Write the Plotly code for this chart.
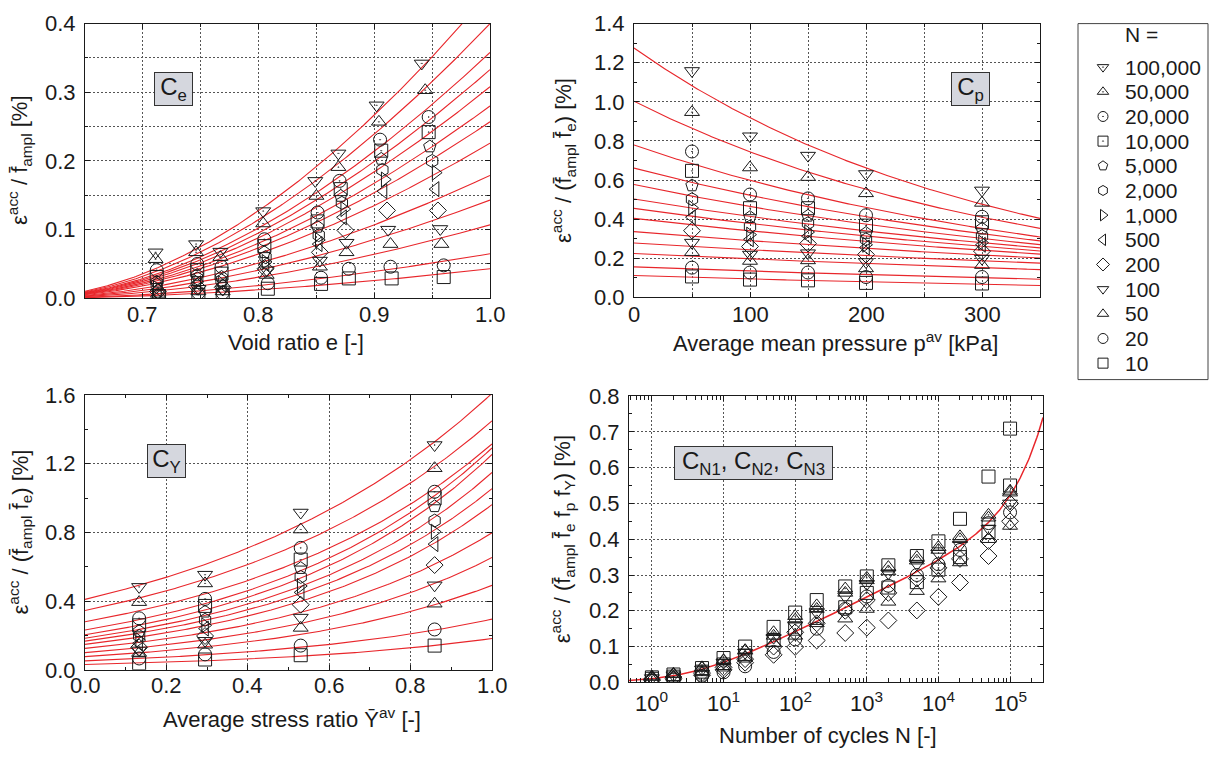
import numpy as np
import plotly.graph_objects as go

W, H = 1210, 766
FONT = "Liberation Sans, Arial, Helvetica, sans-serif"
INK = "#1a1a1a"
RED = "#e8262b"
GRID = "#555555"

# ---------------------------------------------------------------- series
n_labels = ["100,000", "50,000", "20,000", "10,000", "5,000", "2,000", "1,000",
            "500", "200", "100", "50", "20", "10"]
n_symbols = ["triangle-down-open-dot", "triangle-up-open-dot", "circle-open-dot",
             "square-open-dot", "pentagon-open", "hexagon-open", "triangle-right-open",
             "triangle-left-open", "diamond-open", "triangle-down-open",
             "triangle-up-open", "circle-open", "square-open"]

# void ratio e of every test (rows: N as in n_labels, columns: test groups)
ce_e = [
    [0.711, 0.746, 0.767, 0.804, 0.849, 0.869, 0.902, 0.941],
    [0.711, 0.746, 0.767, 0.804, 0.850, 0.869, 0.904, 0.944],
    [0.712, 0.747, 0.768, 0.805, 0.851, 0.870, 0.905, 0.947],
    [0.712, 0.747, 0.768, 0.805, 0.851, 0.871, 0.906, 0.947],
    [0.712, 0.747, 0.768, 0.805, 0.851, 0.871, 0.906, 0.948],
    [0.712, 0.747, 0.768, 0.806, 0.852, 0.872, 0.907, 0.950],
    [0.712, 0.747, 0.768, 0.806, 0.852, 0.874, 0.909, 0.953],
    [0.713, 0.747, 0.769, 0.806, 0.852, 0.873, 0.908, 0.953],
    [0.713, 0.747, 0.769, 0.806, 0.853, 0.875, 0.911, 0.955],
    [0.713, 0.748, 0.769, 0.807, 0.853, 0.876, 0.912, 0.957],
    [0.713, 0.748, 0.769, 0.807, 0.853, 0.876, 0.914, 0.958],
    [0.714, 0.748, 0.769, 0.808, 0.854, 0.878, 0.914, 0.960],
    [0.714, 0.748, 0.769, 0.808, 0.854, 0.878, 0.915, 0.960],
]
ce_val = [
    [0.067, 0.079, 0.068, 0.127, 0.171, 0.211, 0.281, 0.342],
    [0.057, 0.067, 0.060, 0.109, 0.149, 0.191, 0.257, 0.303],
    [0.041, 0.050, 0.046, 0.086, 0.125, 0.171, 0.231, 0.264],
    [0.031, 0.041, 0.036, 0.076, 0.112, 0.159, 0.215, 0.242],
    [0.024, 0.034, 0.031, 0.067, 0.104, 0.149, 0.203, 0.221],
    [0.020, 0.029, 0.026, 0.060, 0.092, 0.139, 0.187, 0.200],
    [0.015, 0.024, 0.022, 0.053, 0.085, 0.130, 0.173, 0.183],
    [0.013, 0.022, 0.020, 0.050, 0.079, 0.118, 0.156, 0.159],
    [0.010, 0.017, 0.016, 0.043, 0.067, 0.099, 0.128, 0.128],
    [0.008, 0.014, 0.013, 0.041, 0.055, 0.081, 0.100, 0.101],
    [0.0065, 0.010, 0.010, 0.034, 0.046, 0.067, 0.079, 0.079],
    [0.004, 0.008, 0.008, 0.022, 0.030, 0.043, 0.046, 0.048],
    [0.003, 0.005, 0.005, 0.014, 0.021, 0.029, 0.029, 0.031],
]
# fitted f_e curves: value at e = 1.0 and the material constant C_e
ce_fit_at_1 = [0.446, 0.400, 0.358, 0.333, 0.308, 0.280, 0.257, 0.226, 0.179,
               0.143, 0.107, 0.065, 0.043]
C_e = 0.594

# average mean pressure p_av [kPa]
cp_p = [50, 100, 150, 200, 300]
cp_val = [
    [1.158, 0.824, 0.725, 0.631, 0.547],
    [0.947, 0.664, 0.615, 0.532, 0.483],
    [0.746, 0.526, 0.506, 0.420, 0.412],
    [0.647, 0.456, 0.456, 0.367, 0.384],
    [0.572, 0.410, 0.417, 0.329, 0.351],
    [0.502, 0.362, 0.379, 0.297, 0.313],
    [0.458, 0.321, 0.334, 0.269, 0.280],
    [0.410, 0.297, 0.313, 0.255, 0.269],
    [0.341, 0.260, 0.275, 0.219, 0.236],
    [0.280, 0.219, 0.226, 0.181, 0.198],
    [0.231, 0.186, 0.189, 0.148, 0.165],
    [0.152, 0.127, 0.127, 0.104, 0.104],
    [0.107, 0.091, 0.087, 0.074, 0.071],
]
# fitted f_p curves: values at p = 0 and p = 350 kPa
cp_fit_at_0 = [1.275, 1.003, 0.779, 0.661, 0.577, 0.503, 0.455, 0.404, 0.336,
               0.278, 0.224, 0.156, 0.112]
cp_fit_at_350 = [0.404, 0.353, 0.309, 0.289, 0.270, 0.253, 0.237, 0.221, 0.201,
                 0.175, 0.142, 0.093, 0.061]

# average stress ratio Y_av
cy_Y = [0.133, 0.295, 0.530, 0.859]
cy_val = [
    [0.483, 0.554, 0.916, 1.309],
    [0.394, 0.503, 0.817, 1.174],
    [0.300, 0.413, 0.710, 1.037],
    [0.259, 0.372, 0.642, 0.999],
    [0.225, 0.338, 0.592, 0.952],
    [0.197, 0.291, 0.541, 0.869],
    [0.173, 0.259, 0.488, 0.804],
    [0.154, 0.240, 0.451, 0.732],
    [0.131, 0.197, 0.379, 0.610],
    [0.113, 0.169, 0.304, 0.492],
    [0.098, 0.146, 0.244, 0.385],
    [0.066, 0.090, 0.141, 0.235],
    [0.038, 0.060, 0.085, 0.141],
]
# fitted f_Y curves: values at Y = 0 and Y = 1
cy_fit_at_0 = [0.410, 0.345, 0.280, 0.232, 0.204, 0.184, 0.167, 0.148, 0.125,
               0.100, 0.077, 0.052, 0.031]
cy_fit_at_1 = [1.610, 1.450, 1.315, 1.292, 1.254, 1.149, 1.055, 0.962, 0.798,
               0.654, 0.492, 0.295, 0.182]

# normalised accumulation versus number of cycles, one row per test
cn_N = [1, 2, 5, 10, 20, 50, 100, 200, 500, 1000, 2000, 5000, 10000, 20000,
        50000, 100000]
cn_val = [
    [0.014, 0.022, 0.040, 0.068, 0.100, 0.155, 0.195, 0.230, 0.268, 0.296, 0.327, 0.353, 0.394, 0.457, 0.575, 0.709],
    [0.016, 0.024, 0.042, 0.062, 0.090, 0.140, 0.185, 0.215, 0.262, 0.292, 0.322, 0.350, 0.378, 0.408, 0.468, 0.535],
    [0.008, 0.014, 0.028, 0.045, 0.070, 0.110, 0.130, 0.165, 0.178, 0.205, 0.225, 0.255, 0.290, 0.335, 0.400, 0.437],
    [0.012, 0.020, 0.036, 0.055, 0.083, 0.125, 0.160, 0.195, 0.240, 0.275, 0.305, 0.330, 0.360, 0.385, 0.430, 0.500],
    [0.004, 0.008, 0.018, 0.028, 0.045, 0.085, 0.120, 0.150, 0.205, 0.240, 0.270, 0.300, 0.330, 0.370, 0.445, 0.475],
    [0.006, 0.010, 0.020, 0.035, 0.055, 0.077, 0.099, 0.117, 0.138, 0.153, 0.173, 0.201, 0.239, 0.279, 0.353, 0.450],
    [0.010, 0.016, 0.030, 0.050, 0.075, 0.118, 0.150, 0.180, 0.210, 0.250, 0.265, 0.280, 0.315, 0.350, 0.420, 0.550],
    [0.009, 0.015, 0.026, 0.042, 0.065, 0.100, 0.140, 0.165, 0.200, 0.230, 0.250, 0.290, 0.320, 0.345, 0.395, 0.500],
    [0.015, 0.023, 0.040, 0.060, 0.088, 0.130, 0.175, 0.205, 0.250, 0.285, 0.310, 0.340, 0.370, 0.400, 0.460, 0.530],
]
cn_symbols = ["square-open", "triangle-up-open-dot", "triangle-up-open",
              "triangle-down-open", "circle-open", "diamond-open",
              "square-open-dot", "diamond-open-dot", "triangle-up-open"]
C_N1, C_N2, C_N3 = 0.042, 0.28, 2.19e-5

# x tick labels of the four panels
e_ticks = [0.7, 0.8, 0.9, 1.0]
p_ticks = [0, 100, 200, 300]
Y_ticks = [0.0, 0.2, 0.4, 0.6, 0.8, 1.0]
N_ticks = [1, 10, 100, 1000, 10000, 100000]


# ---------------------------------------------------------------- layout helpers
def fx(px):
    return px / W


def fy(py):
    return 1 - py / H


panels = {  # pixel boxes of the four plot areas: left, right, top, bottom
    1: (85, 490, 12, 296),
    2: (634, 1040, 12, 295),
    3: (85, 492, 396, 680),
    4: (629, 1043, 397, 693),
}

fig = go.Figure()

# open symbols take their stroke colour from marker.color
mk = dict(color=INK, line=dict(color=INK, width=1))


def add_markers(xs, ys, sym, axis, size=13):
    fig.add_trace(go.Scatter(
        x=xs, y=ys, mode="markers", xaxis="x" + axis, yaxis="y" + axis,
        marker=dict(symbol=sym, size=size, **mk), showlegend=False,
        hoverinfo="skip"))


def add_curve(xs, ys, axis, width=1.1):
    fig.add_trace(go.Scatter(
        x=xs, y=ys, mode="lines", xaxis="x" + axis, yaxis="y" + axis,
        line=dict(color=RED, width=width), showlegend=False, hoverinfo="skip"))


# panel 1: C_e
e_grid = np.linspace(0.65, 1.0, 200)
shape_e = (e_grid - C_e) ** 2 / (1 + e_grid)
shape_e1 = (1.0 - C_e) ** 2 / 2.0
for a in ce_fit_at_1:
    add_curve(e_grid, a * shape_e / shape_e1, "")
for i in range(13):
    add_markers(ce_e[i], ce_val[i], n_symbols[i], "")

# panel 2: C_p
p_grid = np.linspace(0, 350, 200)
for v0, v1 in zip(cp_fit_at_0, cp_fit_at_350):
    add_curve(p_grid, v0 * (v1 / v0) ** (p_grid / 350.0), "2")
for i in range(13):
    add_markers(cp_p, cp_val[i], n_symbols[i], "2")

# panel 3: C_Y
y_grid = np.linspace(0, 1, 200)
for v0, v1 in zip(cy_fit_at_0, cy_fit_at_1):
    add_curve(y_grid, v0 * (v1 / v0) ** y_grid, "3")
for i in range(13):
    add_markers(cy_Y, cy_val[i], n_symbols[i], "3")

# panel 4: C_N1, C_N2, C_N3
N_grid = np.logspace(-0.32, 5.46, 400)
add_curve(N_grid, C_N1 * (np.log(1 + C_N2 * N_grid) + C_N3 * N_grid), "4", width=1.5)
for row, sym in zip(cn_val, cn_symbols):
    add_markers(cn_N, row, sym, "4")

# legend drawn on a pixel-coordinate overlay
leg_x_marker, leg_x_text, leg_y0, leg_dy = 1103, 1123, 57, 25.5
leg_y = [leg_y0 + leg_dy * i for i in range(13)]
for i in range(13):
    fig.add_trace(go.Scatter(
        x=[leg_x_marker], y=[leg_y[i]], mode="markers", xaxis="x5", yaxis="y5",
        marker=dict(symbol=n_symbols[i], size=10, **mk), showlegend=False,
        hoverinfo="skip"))

# ---------------------------------------------------------------- axes
FS = 22
tickfont = dict(family=FONT, size=FS, color=INK)


def axis_common(domain, anchor):
    return dict(domain=domain, anchor=anchor, showline=True, linecolor=INK,
                linewidth=1, mirror="ticks", ticks="inside", ticklen=5,
                tickcolor=INK, showgrid=True, gridcolor=GRID, gridwidth=1,
                griddash="2px,2px", zeroline=False, tickfont=tickfont,
                ticklabelstandoff=4)


def dom(panel):
    l, r, t, b = panels[panel]
    return [fx(l), fx(r)], [fy(b), fy(t)]


layout_axes = {}
xd, yd = dom(1)
layout_axes["xaxis"] = dict(axis_common(xd, "y"), range=[0.65, 1.0], tick0=0.7,
                            dtick=0.1, showticklabels=False,
                            minor=dict(dtick=0.05, showgrid=True, gridcolor=GRID,
                                       griddash="2px,2px", ticks="inside", ticklen=3))
layout_axes["yaxis"] = dict(axis_common(yd, "x"), range=[0, 0.4], dtick=0.1,
                            tickformat=".1f",
                            minor=dict(dtick=0.05, showgrid=True, gridcolor=GRID,
                                       griddash="2px,2px", ticks="inside", ticklen=3))
xd, yd = dom(2)
layout_axes["xaxis2"] = dict(axis_common(xd, "y2"), range=[0, 350], dtick=100,
                             showticklabels=False,
                             minor=dict(dtick=50, showgrid=True, gridcolor=GRID,
                                        griddash="2px,2px", ticks="inside", ticklen=3))
layout_axes["yaxis2"] = dict(axis_common(yd, "x2"), range=[0, 1.4], dtick=0.2,
                             tickformat=".1f",
                             minor=dict(dtick=0.1, showgrid=False, ticks="inside",
                                        ticklen=3))
xd, yd = dom(3)
layout_axes["xaxis3"] = dict(axis_common(xd, "y3"), range=[0, 1.0], dtick=0.2,
                             showticklabels=False,
                             minor=dict(dtick=0.1, showgrid=False, ticks="inside",
                                        ticklen=3))
layout_axes["yaxis3"] = dict(axis_common(yd, "x3"), range=[0, 1.6], dtick=0.4,
                             tickformat=".1f",
                             minor=dict(dtick=0.2, showgrid=False, ticks="inside",
                                        ticklen=3))
xd, yd = dom(4)
minor_N = [m * 10 ** k for k in range(-1, 6) for m in range(2, 10)]
layout_axes["xaxis4"] = dict(axis_common(xd, "y4"), type="log", range=[-0.32, 5.46],
                             tickmode="array", tickvals=N_ticks,
                             showticklabels=False,
                             minor=dict(tickmode="array", tickvals=minor_N,
                                        showgrid=False, ticks="inside", ticklen=4))
layout_axes["yaxis4"] = dict(axis_common(yd, "x4"), range=[0, 0.8], dtick=0.1,
                             tickformat=".1f",
                             minor=dict(dtick=0.05, showgrid=False, ticks="inside",
                                        ticklen=3))
layout_axes["xaxis5"] = dict(domain=[0, 1], anchor="y5", range=[0, W], visible=False)
layout_axes["yaxis5"] = dict(domain=[0, 1], anchor="x5", range=[H, 0], visible=False)

# ---------------------------------------------------------------- texts
fbar = "f\u0304"
annotations = []


def text(x, y, s, angle=0, xanchor="center", size=FS):
    annotations.append(dict(x=fx(x), y=fy(y), xref="paper", yref="paper", text=s,
                            showarrow=False, textangle=angle, xanchor=xanchor,
                            yanchor="middle",
                            font=dict(family=FONT, size=size, color=INK)))


def xtick_labels(xref, values, labels, y, logaxis=False):
    for v, s in zip(values, labels):
        annotations.append(dict(x=np.log10(v) if logaxis else v, y=fy(y), xref=xref,
                                yref="paper", text=s, showarrow=False,
                                xanchor="center", yanchor="middle",
                                font=dict(family=FONT, size=FS, color=INK)))


xtick_labels("x", e_ticks, ["%.1f" % v for v in e_ticks], 313)
xtick_labels("x2", p_ticks, ["%d" % v for v in p_ticks], 313)
xtick_labels("x3", Y_ticks, ["%.1f" % v for v in Y_ticks], 696)
xtick_labels("x4", N_ticks, ["10<sup>%d</sup>" % round(np.log10(v)) for v in N_ticks],
             713, logaxis=True)

text(296, 342, "Void ratio e [-]")
text(835, 341, "Average mean pressure p<sup>av</sup> [kPa]")
text(292, 730, "Average stress ratio Y\u0304<sup>av</sup> [-]")
text(828, 748, "Number of cycles N [-]")
text(20, 154, "\u03b5<sup>acc</sup> / %s<sub>ampl</sub> [%%]" % fbar, angle=-90)
text(564, 154, "\u03b5<sup>acc</sup> / (%s<sub>ampl</sub> %s<sub>e</sub>) [%%]"
     % (fbar, fbar), angle=-90)
text(20, 538, "\u03b5<sup>acc</sup> / (%s<sub>ampl</sub> %s<sub>e</sub>) [%%]"
     % (fbar, fbar), angle=-90)
text(562, 545, "\u03b5<sup>acc</sup> / (%s<sub>ampl</sub> %s<sub>e</sub> "
     "f<sub>p</sub> f<sub>Y</sub>) [%%]" % (fbar, fbar), angle=-90)

# constant labels in grey boxes
for (cx, cy, s, w) in [(174, 80, "C<sub>e</sub>", 37),
                       (970, 80, "C<sub>p</sub>", 37),
                       (166, 464, "C<sub>Y</sub>", 37),
                       (754, 466, "C<sub>N1</sub>, C<sub>N2</sub>, C<sub>N3</sub>", 157)]:
    annotations.append(dict(x=fx(cx), y=fy(cy), xref="paper", yref="paper", text=s,
                            showarrow=False, xanchor="center", yanchor="middle",
                            width=w, height=32, bgcolor="#d5d7de",
                            bordercolor="#333333", borderwidth=1, borderpad=0,
                            font=dict(family=FONT, size=24, color=INK)))

# legend texts
text(leg_x_text, 23, "N =", xanchor="left", size=21)
for i in range(13):
    text(leg_x_text, leg_y[i], n_labels[i], xanchor="left", size=21)

shapes = [dict(type="rect", xref="paper", yref="paper", x0=fx(1078), x1=fx(1208),
               y0=fy(380), y1=fy(12), line=dict(color="#444444", width=1))]

fig.update_layout(
    width=W, height=H, margin=dict(l=0, r=0, t=0, b=0),
    paper_bgcolor="white", plot_bgcolor="rgba(0,0,0,0)",
    font=dict(family=FONT, size=FS, color=INK),
    showlegend=False, annotations=annotations, shapes=shapes, **layout_axes)

fig.write_html("out.html")
